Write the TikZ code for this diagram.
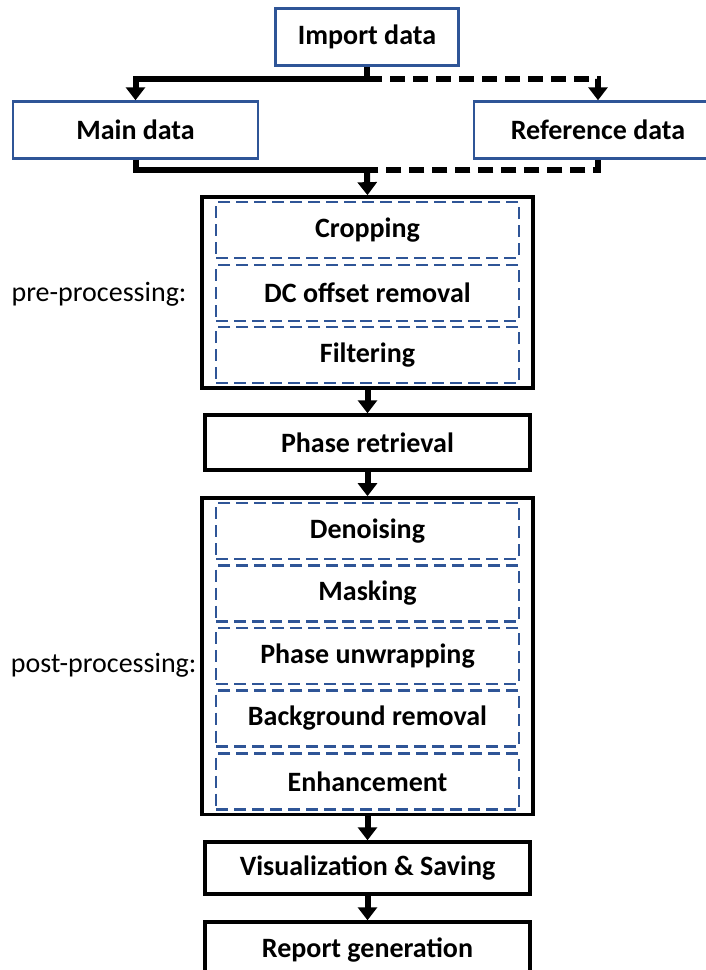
\documentclass[tikz,border=0pt]{standalone}
\usepackage{fontspec}
\setmainfont{Carlito}
\usepackage{tikz}
\usetikzlibrary{arrows.meta,positioning,fit}
\definecolor{officeblue}{RGB}{47,85,151}

\begin{document}
\begin{tikzpicture}[x=1pt,y=-1pt,
    datbox/.style={draw=officeblue, line width=2.5pt, fill=white, minimum height=57pt, font=\fontsize{28}{33}\selectfont\bfseries},
    stagebox/.style={draw=black, line width=3.5pt, minimum width=325pt, font=\fontsize{28}{33}\selectfont\bfseries},
    subbox/.style={draw=officeblue, line width=2.2pt, dash pattern=on 12pt off 6pt, minimum width=303pt, minimum height=56pt, font=\fontsize{28}{33}\selectfont\bfseries},
    groupbox/.style={draw=black, line width=3.5pt, inner xsep=13pt, inner ysep=4pt},
    flow/.style={line width=6pt, -{Triangle[width=19pt,length=13pt]}},
    link/.style={line width=6pt},
    refdash/.style={dash pattern=on 15pt off 8pt}]
    \useasboundingbox (0,0) rectangle (706,970);

    % --- input ---
    \node[datbox, minimum width=183pt] (imp) at (367,37) {Import data};
    \node[datbox, minimum width=245pt] (main) at (135.5,130) {Main data};
    \node[datbox, minimum width=248pt] (ref) at (598,130) {Reference data};
    \coordinate (split) at (367,79);
    \coordinate (merge) at (367,170);

    % --- pre-processing ---
    \node[subbox] (crop) at (367.5,230) {Cropping};
    \node[subbox] (dcoff) at (367.5,293) {DC offset removal};
    \node[subbox] (filt) at (367.5,355) {Filtering};
    \node[groupbox, fit=(crop)(filt)] (pre) {};
    \node[anchor=east, font=\fontsize{28}{33}\selectfont] (prelbl) at (190,294) {pre-processing:};

    \node[stagebox, minimum height=55pt] (phase) at (367.5,442.5) {Phase retrieval};

    % --- post-processing ---
    \node[subbox] (denoise) at (367.5,531) {Denoising};
    \node[subbox] (mask) at (367.5,593.5) {Masking};
    \node[subbox] (unwrap) at (367.5,656) {Phase unwrapping};
    \node[subbox] (bgrem) at (367.5,718.5) {Background removal};
    \node[subbox] (enh) at (367.5,781.5) {Enhancement};
    \node[groupbox, fit=(denoise)(enh)] (post) {};
    \node[anchor=east, font=\fontsize{28}{33}\selectfont] (postlbl) at (200,665) {post-processing:};

    \node[stagebox, minimum height=52pt] (vis) at (367.5,868) {Visualization \& Saving};
    \node[stagebox, minimum height=56pt] (rep) at (367.5,950) {Report generation};

    % --- connectors ---
    \draw[link] (imp.south) -- (split);
    \draw[flow] (split) -| (main.north);
    \draw[flow, refdash] (split) -| (ref.north);
    \draw[link] (main.south) |- (merge);
    \draw[link, refdash] (ref.south) |- (merge);
    \draw[flow] (merge) -- (pre.north);
    \draw[flow] (pre.south) -- (phase.north);
    \draw[flow] (phase.south) -- (post.north);
    \draw[flow] (post.south) -- (vis.north);
    \draw[flow] (vis.south) -- (rep.north);
\end{tikzpicture}
\end{document}
